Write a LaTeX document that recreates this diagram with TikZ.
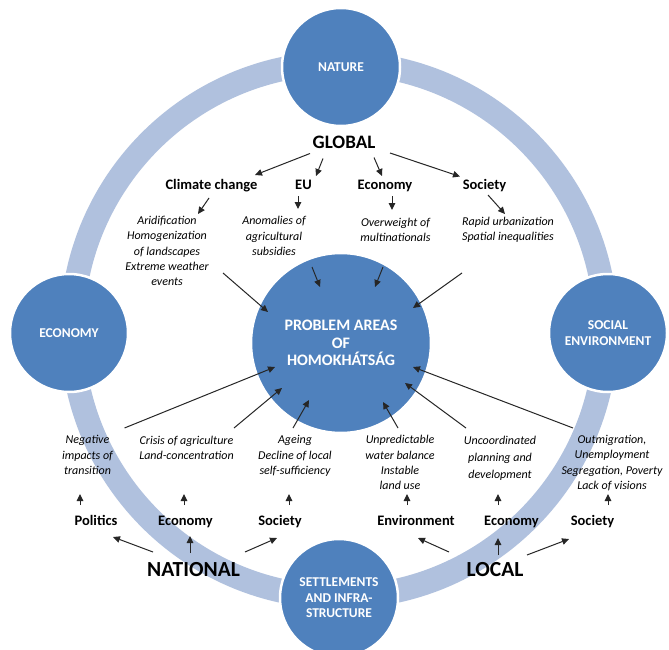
\documentclass[tikz,border=0pt]{standalone}
\usepackage{fontspec}
\setmainfont{Carlito}
\usetikzlibrary{arrows.meta}
\definecolor{ringblue}{RGB}{176,193,222}
\definecolor{circblue}{RGB}{79,129,189}
\begin{document}
\begin{tikzpicture}[x=1pt,y=-1pt,
  arr/.style={draw=black!85, line width=1pt, -{Triangle[length=7pt,width=6.5pt]}},
  bigc/.style={circle, fill=circblue, draw=white, line width=2.5pt, minimum size=118pt, inner sep=0pt, text=white, font=\bfseries\fontsize{13.5}{15.5}\selectfont, align=center},
  lvlzero/.style={font=\bfseries\fontsize{19}{21}\selectfont, inner sep=1pt, text height=13pt, text depth=4pt},
  lvlnat/.style={font=\bfseries\fontsize{21.5}{23}\selectfont, inner sep=1pt, text height=15pt, text depth=4pt},
  lvlone/.style={font=\bfseries\fontsize{14.5}{16}\selectfont, inner sep=1pt, text height=10.5pt, text depth=3.5pt},
  itemtxt/.style={font=\itshape\fontsize{12}{15.2}\selectfont, align=center, inner sep=1pt},
]
\useasboundingbox (0,0) rectangle (669,650);
\fill[white] (0,0) rectangle (669,650);
\draw[ringblue, line width=24pt] (339,330) circle[radius=267];

% outer circles
\node[bigc] (nature) at (341,67) {NATURE};
\node[bigc] (econ) at (69,333) {ECONOMY};
\node[bigc, font=\bfseries\fontsize{13.5}{16}\selectfont] (social) at (608,333) {SOCIAL\\ENVIRONMENT};
\node[bigc] (settle) at (339,598) {SETTLEMENTS\\AND INFRA-\\STRUCTURE};
\node[bigc, minimum size=180pt, font=\bfseries\fontsize{16}{17.5}\selectfont] (prob) at (341,343) {PROBLEM AREAS\\OF\\HOMOKHÁTSÁG};

% global level
\node[lvlzero] (global) at (344,144.5) {GLOBAL};
\node[lvlone] (gcc) at (211.5,186) {Climate change};
\node[lvlone] (geu) at (303.5,186) {EU};
\node[lvlone] (geco) at (385,186) {Economy};
\node[lvlone] (gsoc) at (484.5,186) {Society};

\node[itemtxt] (arid) at (167,251) {Aridification\\Homogenization\\of landscapes\\Extreme weather\\events};
\node[itemtxt] (anom) at (274,236) {Anomalies of\\agricultural\\subsidies};
\node[itemtxt] (over) at (395.5,229.5) {Overweight of\\multinationals};
\node[itemtxt] (rapid) at (508,229.5) {Rapid urbanization\\Spatial inequalities};

\draw[arr] ([shift={(-34,9)}]global.center) -- ([shift={(43.5,-11)}]gcc.center);
\draw[arr] ([shift={(-21,14)}]global.center) -- ([shift={(12.5,-10)}]geu.center);
\draw[arr] ([shift={(30,13)}]global.center) -- ([shift={(-3,-10)}]geco.center);
\draw[arr] ([shift={(46,8.5)}]global.center) -- ([shift={(-24.5,-9.5)}]gsoc.center);

\draw[arr] ([shift={(-2.5,12)}]gcc.center) -- ([shift={(31,-37)}]arid.center);
\draw[arr] ([shift={(-5.5,10)}]geu.center) -- ([shift={(24,-27)}]anom.center);
\draw[arr] ([shift={(7,10)}]geco.center) -- ([shift={(-3.5,-19.5)}]over.center);
\draw[arr] ([shift={(3.5,9)}]gsoc.center) -- ([shift={(-3,-15.5)}]rapid.center);

\draw[arr] ([shift={(56,22)}]arid.center) -- ([shift={(-73,-31)}]prob.center);
\draw[arr] ([shift={(38,31)}]anom.center) -- ([shift={(-21,-56)}]prob.center);
\draw[arr] ([shift={(-12.5,37.5)}]over.center) -- ([shift={(34,-56)}]prob.center);
\draw[arr] ([shift={(-46,43.5)}]rapid.center) -- ([shift={(72,-35)}]prob.center);

% national / local level
\node[itemtxt] (neg) at (87.5,455) {Negative\\impacts of\\transition};
\node[itemtxt] (crisis) at (186.5,447.5) {Crisis of agriculture\\Land-concentration};
\node[itemtxt] (ageing) at (295,456) {Ageing\\Decline of local\\self-sufficiency};
\node[itemtxt] (unpred) at (400,462.5) {Unpredictable\\water balance\\Instable\\land use};
\node[itemtxt, font=\itshape\fontsize{12}{17}\selectfont] (uncoord) at (500,458) {Uncoordinated\\planning and\\development};
\node[itemtxt] (outmig) at (612,463) {Outmigration,\\Unemployment\\Segregation, Poverty\\Lack of visions};

\draw[arr] ([shift={(37,-27)}]neg.center) -- ([shift={(-66,24)}]prob.center);
\draw[arr] ([shift={(47.5,-19.5)}]crisis.center) -- ([shift={(-59,45)}]prob.center);
\draw[arr] ([shift={(-2,-28)}]ageing.center) -- ([shift={(-32,57)}]prob.center);
\draw[arr] ([shift={(-2,-34.5)}]unpred.center) -- ([shift={(42,59)}]prob.center);
\draw[arr] ([shift={(-34,-30)}]uncoord.center) -- ([shift={(64,40)}]prob.center);
\draw[arr] ([shift={(-39,-35)}]outmig.center) -- ([shift={(72,24)}]prob.center);

\node[lvlone] (npol) at (96,522) {Politics};
\node[lvlone] (neco) at (185.5,522) {Economy};
\node[lvlone] (nsoc) at (280,522) {Society};
\node[lvlone] (lenv) at (416,522) {Environment};
\node[lvlone] (leco) at (511.5,522) {Economy};
\node[lvlone] (lsoc) at (592.5,522) {Society};

\node[lvlnat] (national) at (193.5,571) {NATIONAL};
\node[lvlnat] (local) at (495,571) {LOCAL};

\draw[arr] ([shift={(-16,-17)}]npol.center) -- ([shift={(-16,-28)}]npol.center);
\draw[arr] ([shift={(-1.5,-17)}]neco.center) -- ([shift={(-1.5,-28)}]neco.center);
\draw[arr] ([shift={(9,-17)}]nsoc.center) -- ([shift={(9,-28)}]nsoc.center);
\draw[arr] ([shift={(-9,-17)}]lenv.center) -- ([shift={(-9,-28)}]lenv.center);
\draw[arr] ([shift={(-13.5,-17)}]leco.center) -- ([shift={(-13.5,-28)}]leco.center);
\draw[arr] ([shift={(15.5,-17)}]lsoc.center) -- ([shift={(15.5,-28)}]lsoc.center);

\draw[arr] ([shift={(-40.5,-19)}]national.center) -- ([shift={(17,15)}]npol.center);
\draw[arr] ([shift={(-3.5,-18)}]national.center) -- ([shift={(4.5,14)}]neco.center);
\draw[arr] ([shift={(51.5,-19)}]national.center) -- ([shift={(-3,16)}]nsoc.center);
\draw[arr] ([shift={(-46,-19)}]local.center) -- ([shift={(2,16)}]lenv.center);
\draw[arr] ([shift={(3,-16)}]local.center) -- ([shift={(-13.5,16)}]leco.center);
\draw[arr] ([shift={(32,-16)}]local.center) -- ([shift={(-23.5,17)}]lsoc.center);
\end{tikzpicture}
\end{document}
